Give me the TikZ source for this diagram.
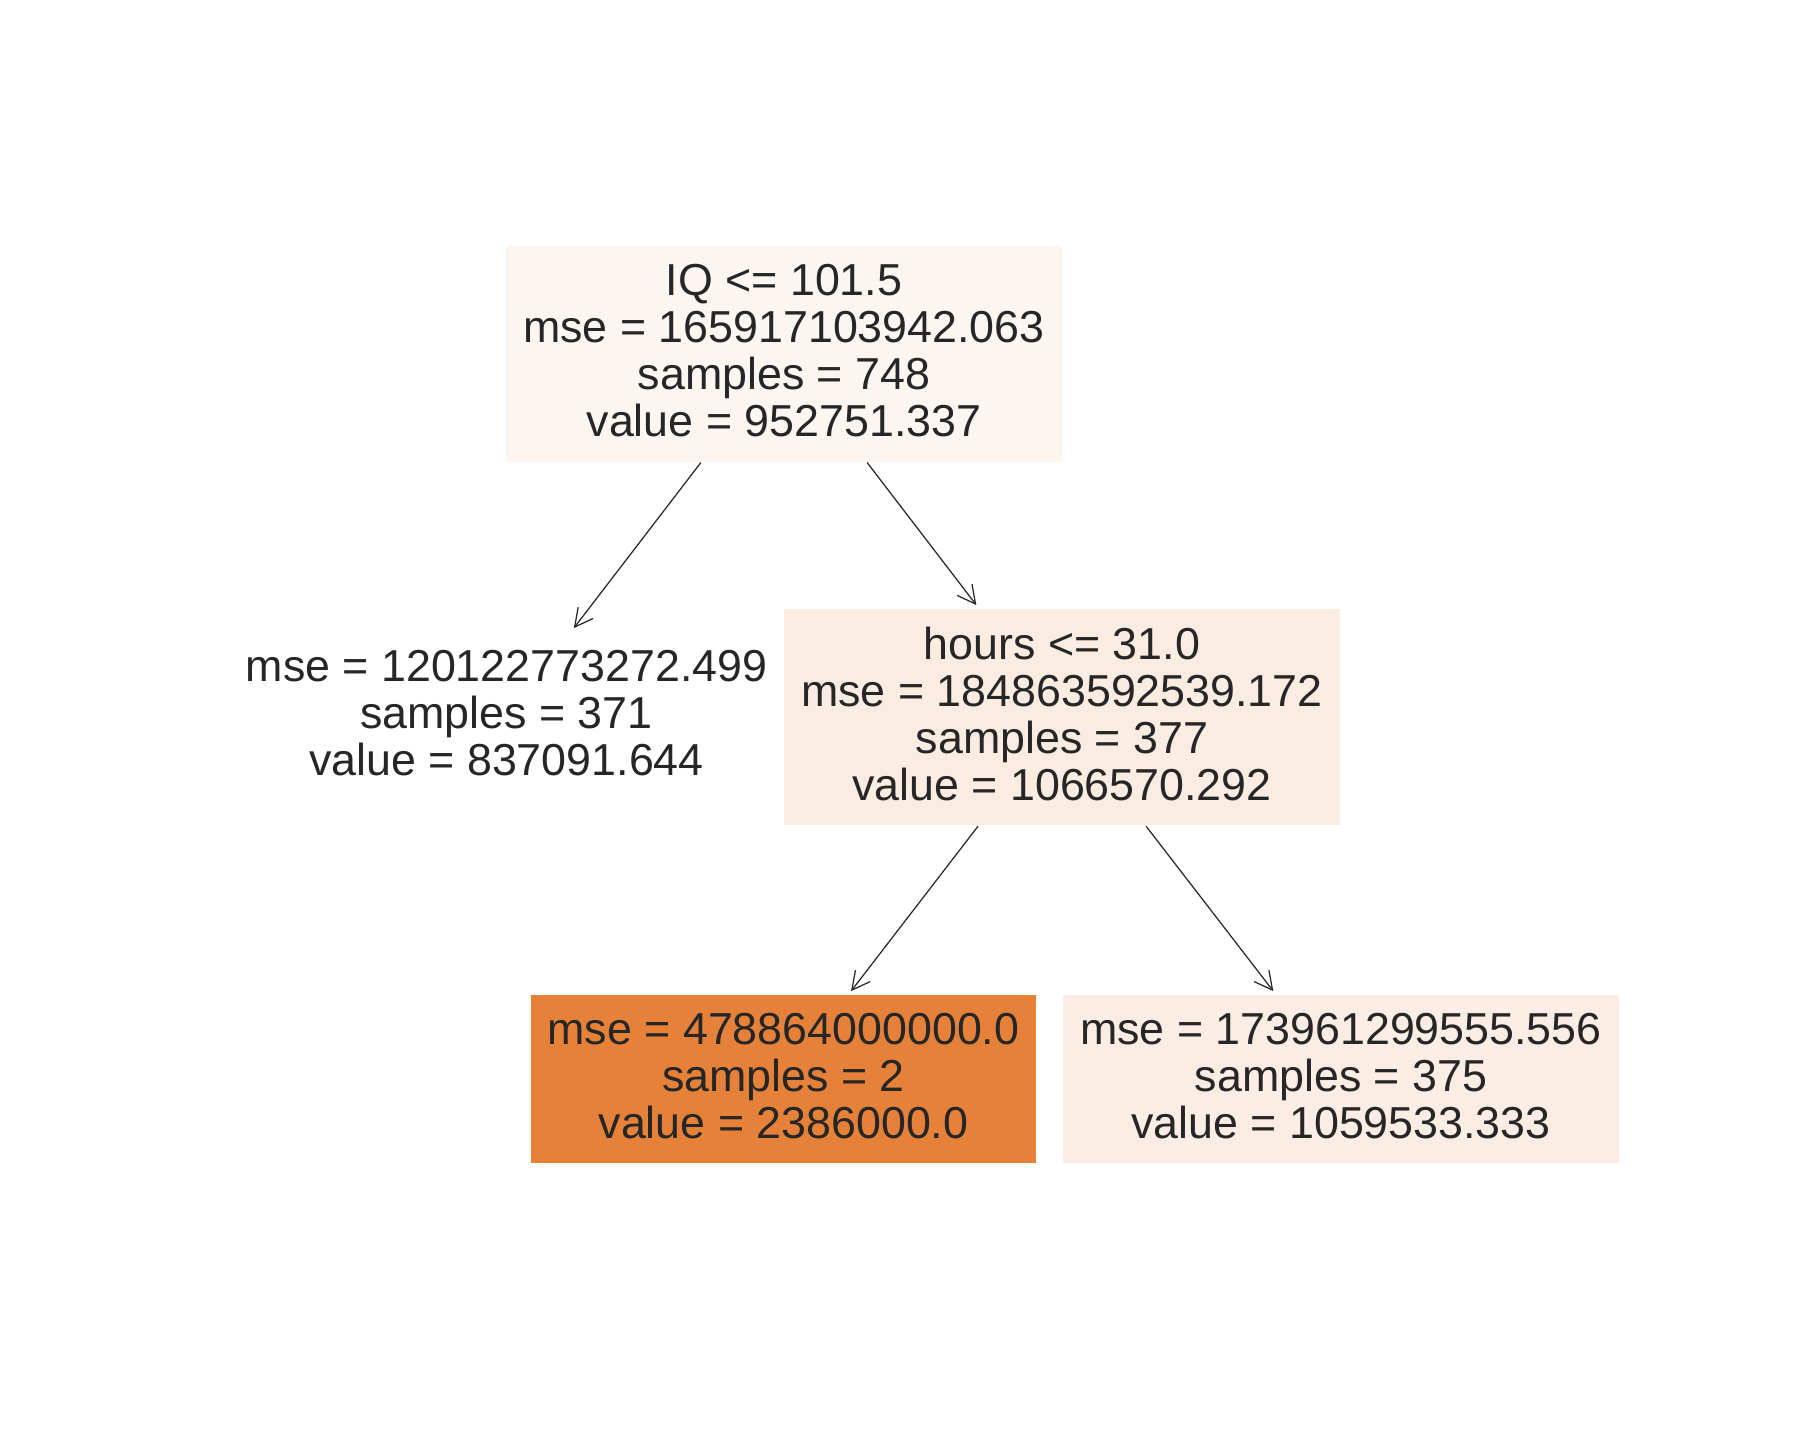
\documentclass[tikz,border=0pt]{standalone}
\usepackage{fontspec}
\setmainfont{Liberation Sans}
\usetikzlibrary{arrows.meta}
\definecolor{txtgray}{RGB}{38,38,38}
\definecolor{fillroot}{RGB}{253,246,240}
\definecolor{fillhours}{RGB}{251,236,226}
\definecolor{fillright}{RGB}{251,237,227}
\definecolor{fillorange}{RGB}{229,129,57}

\begin{document}
\begin{tikzpicture}[
    split/.style={align=center, inner xsep=0.17cm, inner ysep=0.185cm,
      text=txtgray, font=\fontsize{12.74}{13.37}\selectfont,
      execute at end node={\rule[-0.065cm]{0pt}{0pt}}},
    edge/.style={draw=txtgray, line width=0.35pt,
      -{Straight Barb[length=5.1pt,width=5.3pt]}, shorten >=1pt}
  ]
      \useasboundingbox (0, 0) rectangle (18, -14.4);
      \node[split, fill=fillroot] (iq) at (7.84, -3.54) {IQ <= 101.5\\
        mse = 165917103942.063\\samples = 748\\value = 952751.337};
      \node[split] (leaf1) at (5.065, -7.16) {mse = 120122773272.499\\
        samples = 371\\value = 837091.644};
      \node[split, fill=fillhours] (hours) at (10.62, -7.17) {hours <= 31.0\\
        mse = 184863592539.172\\samples = 377\\value = 1066570.292};
      \node[split, fill=fillorange] (leaf2) at (7.835, -10.79) {mse = 478864000000.0\\
        samples = 2\\value = 2386000.0};
      \node[split, fill=fillright] (leaf3) at (13.41, -10.79) {mse = 173961299555.556\\
        samples = 375\\value = 1059533.333};
      \draw[edge] (iq) -- (leaf1);
      \draw[edge] (iq) -- (hours);
      \draw[edge] (hours) -- (leaf2);
      \draw[edge] (hours) -- (leaf3);
\end{tikzpicture}
\end{document}
